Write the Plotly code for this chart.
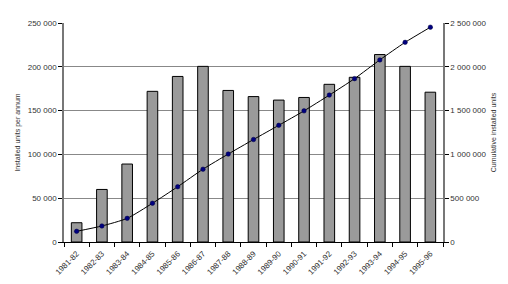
import plotly.graph_objects as go

years = ["1981-82", "1982-83", "1983-84", "1984-85", "1985-86", "1986-87", "1987-88",
         "1988-89", "1989-90", "1990-91", "1991-92", "1992-93", "1993-94", "1994-95", "1995-96"]
annual = [22000, 60000, 89000, 172000, 189000, 200500, 173000,
          166000, 162000, 165000, 180000, 188000, 214000, 200500, 171000]
cumulative = [122000, 183000, 270000, 442000, 631000, 831000, 1004000,
              1170000, 1332000, 1497000, 1677000, 1865000, 2079000, 2279000, 2452000]

FONT = "Liberation Sans, Arial, sans-serif"

fig = go.Figure()
fig.add_trace(go.Bar(
    x=years, y=annual, width=0.42,
    marker=dict(color="#9a9a9a", line=dict(color="#000000", width=1)),
    yaxis="y", showlegend=False,
))
fig.add_trace(go.Scatter(
    x=years, y=cumulative, mode="lines+markers",
    line=dict(color="#000000", width=1, shape="spline", smoothing=0.6),
    marker=dict(color="#000080", size=4.5, line=dict(color="#000040", width=0.5)),
    yaxis="y2", showlegend=False,
))

fig.update_layout(
    width=508, height=284,
    margin=dict(l=64, r=65, t=23, b=42, autoexpand=False),
    paper_bgcolor="white", plot_bgcolor="white",
    font=dict(family=FONT, size=8, color="#000000"),
    separators=". ",
    xaxis=dict(
        type="category", range=[-0.5, len(years) - 0.5],
        tickangle=-45, tickson="boundaries",
        ticks="outside", ticklen=4, tickcolor="#000000", tickwidth=1,
        ticklabelstandoff=3,
        showline=True, linecolor="#000000", linewidth=1,
        showgrid=False, tickfont=dict(size=8, color="#333333"),
        automargin=False,
    ),
    yaxis=dict(
        range=[0, 250000], dtick=50000, tickformat=",d",
        ticks="outside", ticklen=4, tickcolor="#000000",
        showline=True, linecolor="#777777", linewidth=1.5,
        showgrid=True, gridcolor="#888888", gridwidth=1,
        zeroline=False, tickfont=dict(size=8, color="#333333"),
        title=dict(text="Installed units per annum", font=dict(size=7, color="#333333"), standoff=6),
        automargin=False,
    ),
    yaxis2=dict(
        range=[0, 2500000], dtick=500000, tickformat=",d",
        overlaying="y", side="right",
        ticks="outside", ticklen=4, tickcolor="#000000",
        showline=True, linecolor="#777777", linewidth=1.5,
        showgrid=False, zeroline=False, tickfont=dict(size=8, color="#333333"),
        title=dict(text="Cumulative installed units", font=dict(size=7, color="#333333"), standoff=6),
        automargin=False,
    ),
)

fig.write_html("out.html")
